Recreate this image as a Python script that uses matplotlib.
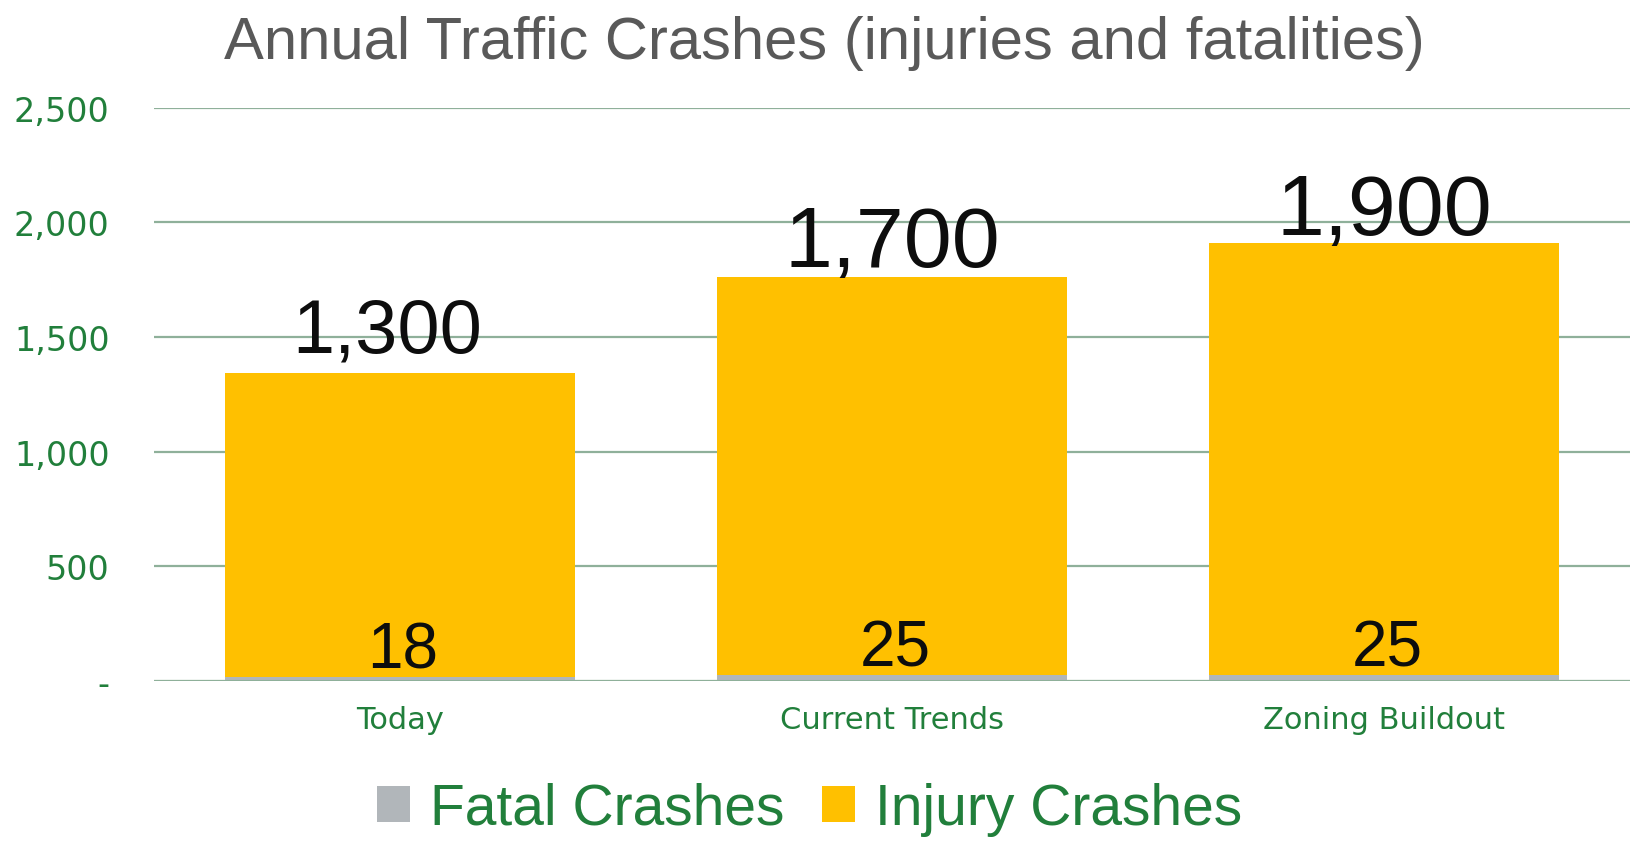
import matplotlib
matplotlib.use("Agg")
import matplotlib.pyplot as plt
from matplotlib.patches import Patch
from matplotlib.ticker import FuncFormatter

# Scenario data
categories = ["Today", "Current Trends", "Zoning Buildout"]
fatal_crashes = [18, 25, 25]
injury_crashes = [1327, 1738, 1886]
series_names = ["Fatal Crashes", "Injury Crashes"]
y_ticks = [0, 500, 1000, 1500, 2000, 2500]
title = "Annual Traffic Crashes (injuries and fatalities)"

# Styling
GOLD = "#FFC000"
GRAY = "#B1B6BA"
GREEN = "#217F3B"
GRID = "#8FB09A"
TITLE_GRAY = "#595959"
LABEL_FONT = "Liberation Sans"
TICK_FONT = "DejaVu Sans"

W, H = 1632, 845
fig = plt.figure(figsize=(W / 100, H / 100), dpi=100)
ax = fig.add_axes([154 / W, 1 - 682 / H, (1630 - 154) / W, (682 - 108.6) / H])

x = list(range(len(categories)))
bar_w = 0.713

ax.bar(x, fatal_crashes, width=bar_w, color=GRAY, zorder=2, linewidth=0)
ax.bar(x, injury_crashes, width=bar_w, bottom=fatal_crashes, color=GOLD,
       zorder=2, linewidth=0)

ax.set_xlim(-0.5, len(categories) - 0.5)
ax.set_ylim(0, y_ticks[-1])
ax.set_yticks(y_ticks)
ax.yaxis.set_major_formatter(
    FuncFormatter(lambda v, _: "-" if v == 0 else f"{v:,.0f}"))
ax.set_xticks(x)
ax.set_xticklabels(categories)

for s in ax.spines.values():
    s.set_visible(False)
ax.grid(axis="y", color=GRID, linewidth=1.6, zorder=0)
ax.axhline(0, color=GRID, linewidth=2.2, zorder=3)
ax.tick_params(axis="both", length=0, colors=GREEN)
ax.tick_params(axis="y", pad=32, labelsize=24)
ax.tick_params(axis="x", pad=17, labelsize=22)
for t in ax.get_xticklabels() + ax.get_yticklabels():
    t.set_fontfamily(TICK_FONT)

# Value labels: injury totals above the stack, fatal counts just above the base
top_sizes = [54.5, 62, 62]
top_offsets = [(-9, 15), (0, 8), (0, 6.5)]
for i, (f, inj) in enumerate(zip(fatal_crashes, injury_crashes)):
    ax.annotate(f"{round(inj, -2):,.0f}", xy=(i, f + inj),
                xytext=top_offsets[i], textcoords="offset points",
                ha="center", va="baseline", fontsize=top_sizes[i],
                family=LABEL_FONT, color="#0D0D0D", zorder=4)
    ax.annotate(f"{f}", xy=(i, f), xytext=(2, 7), textcoords="offset points",
                ha="center", va="baseline", fontsize=46,
                family=LABEL_FONT, color="#0D0D0D", zorder=4)

fig.text(0.505, 1 - 59 / H, title, ha="center", va="baseline",
         fontsize=43, family=LABEL_FONT, color=TITLE_GRAY)

handles = [Patch(facecolor=GRAY, edgecolor="none"),
           Patch(facecolor=GOLD, edgecolor="none")]
leg = fig.legend(handles, series_names, loc="center",
                 bbox_to_anchor=(0.496, 1 - 810 / H), ncol=2, frameon=False,
                 prop={"family": LABEL_FONT, "size": 41},
                 handlelength=0.58, handleheight=0.58, handletextpad=0.35,
                 columnspacing=0.66, borderpad=0, borderaxespad=0)
for t in leg.get_texts():
    t.set_color(GREEN)

fig.savefig("out.png", dpi=100)
